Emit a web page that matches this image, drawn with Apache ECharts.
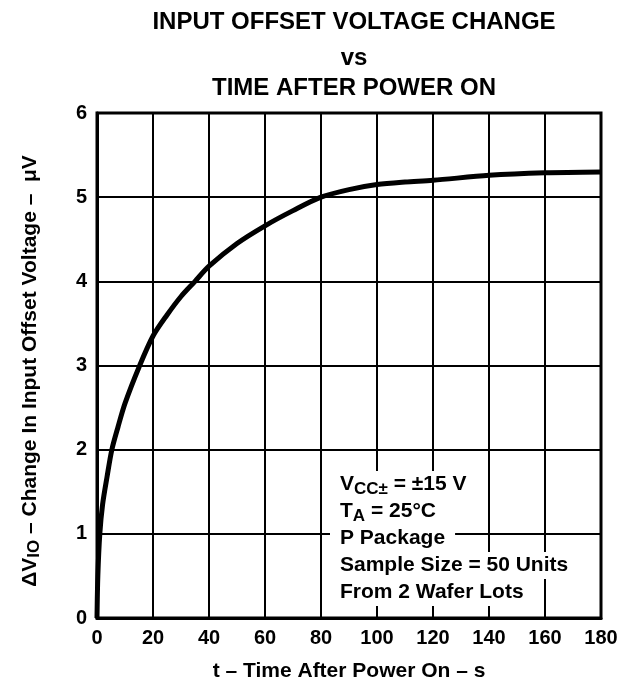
<!DOCTYPE html>
<html>
<head>
<meta charset="utf-8">
<script src="https://cdn.jsdelivr.net/npm/echarts@6/dist/echarts.min.js"></script>
<style>
	html, body {
		margin: 0;
		padding: 0;
		background: #fff;
	}
	#myChart {
		width: 622px;
		height: 687px;
	}
</style>
</head>
<body>
<div id="myChart"></div>
<script>
// time after power on, s
const timeData = [0, 0.3, 1, 2, 3.6, 5.3, 7.5, 10, 15, 20, 25, 30, 35, 40, 50, 60, 70, 80, 90, 100, 110, 120, 140, 160, 180];
// change in input offset voltage, uV
const vioData = [0, 0.5, 1, 1.35, 1.68, 2, 2.27, 2.55, 2.98, 3.35, 3.6, 3.82, 4, 4.18, 4.45, 4.66, 4.84, 5.0, 5.09, 5.15, 5.18, 5.2, 5.26, 5.29, 5.3];
const xTicks = [0, 20, 40, 60, 80, 100, 120, 140, 160, 180];
const yTicks = [0, 1, 2, 3, 4, 5, 6];

const FONT = '"Liberation Sans", Arial, Helvetica, sans-serif';

const myChart = echarts.init(document.getElementById('myChart'));

const noteRich = {
	m: { fontSize: 21, fontWeight: 'bold', fontFamily: FONT, color: '#000', lineHeight: 27 },
	s: { fontSize: 17, fontWeight: 'bold', fontFamily: FONT, color: '#000', lineHeight: 21, verticalAlign: 'bottom' },
};

function note(y, text) {
	return {
		type: 'text',
		left: 330,
		top: y,
		z: 100,
		style: {
			text: text,
			rich: noteRich,
			backgroundColor: '#fff',
			padding: [0, 10, 0, 10],
		}
	};
}

function titleLine(y, text) {
	return {
		type: 'text',
		x: 354, y: y,
		style: { text: text, fill: '#000', font: 'bold 24px ' + FONT, align: 'center', verticalAlign: 'middle' }
	};
}

const option = {
	animation: false,
	backgroundColor: '#fff',
	grid: {
		left: 97,
		right: 21,
		top: 113,
		bottom: 69,
		containLabel: false,
	},
	xAxis: {
		type: 'value',
		min: xTicks[0],
		max: xTicks[xTicks.length - 1],
		interval: 20,
		name: 't – Time After Power On – s',
		nameLocation: 'middle',
		nameGap: 43,
		nameTextStyle: { color: '#000', fontSize: 21, fontWeight: 'bold', fontFamily: FONT },
		axisLine: { show: true, onZero: false, lineStyle: { color: '#000', width: 3 } },
		axisTick: { show: false },
		axisLabel: { color: '#000', fontSize: 20, fontWeight: 'bold', fontFamily: FONT, margin: 10 },
		splitLine: { show: true, lineStyle: { color: '#000', width: 2 } },
	},
	yAxis: {
		type: 'value',
		min: yTicks[0],
		max: yTicks[yTicks.length - 1],
		interval: 1,
		axisLine: { show: true, onZero: false, lineStyle: { color: '#000', width: 3 } },
		axisTick: { show: false },
		axisLabel: { color: '#000', fontSize: 20, fontWeight: 'bold', fontFamily: FONT, margin: 10 },
		splitLine: { show: true, lineStyle: { color: '#000', width: 2 } },
	},
	graphic: [
		// frame on top / right
		{
			type: 'rect',
			shape: { x: 97, y: 113, width: 504, height: 505 },
			style: { fill: 'none', stroke: '#000', lineWidth: 3 },
			z: 1,
		},
		titleLine(22, 'INPUT OFFSET VOLTAGE CHANGE'),
		titleLine(58, 'vs'),
		titleLine(88, 'TIME AFTER POWER ON'),
		{
			type: 'text',
			x: 30, y: 371,
			rotation: Math.PI / 2,
			style: {
				text: '{m|ΔV}{s|IO}{m| – Change In Input Offset Voltage –  μV}',
				align: 'center',
				verticalAlign: 'middle',
				rich: {
					m: { fontSize: 21, fontWeight: 'bold', fontFamily: FONT, color: '#000', lineHeight: 26 },
					s: { fontSize: 17, fontWeight: 'bold', fontFamily: FONT, color: '#000', lineHeight: 20, verticalAlign: 'bottom' },
				}
			}
		},
		note(471, '{m|V}{s|CC±}{m| = ±15 V}'),
		note(498, '{m|T}{s|A}{m| = 25°C}'),
		note(525, '{m|P Package}'),
		note(552, '{m|Sample Size = 50 Units}'),
		note(579, '{m|From 2 Wafer Lots}'),
	],
	series: [
		{
			type: 'line',
			data: timeData.map((t, i) => [t, vioData[i]]),
			smooth: 0.3,
			showSymbol: false,
			lineStyle: { color: '#000', width: 5 },
			z: 5,
		}
	]
};

myChart.setOption(option);
</script>
</body>
</html>
